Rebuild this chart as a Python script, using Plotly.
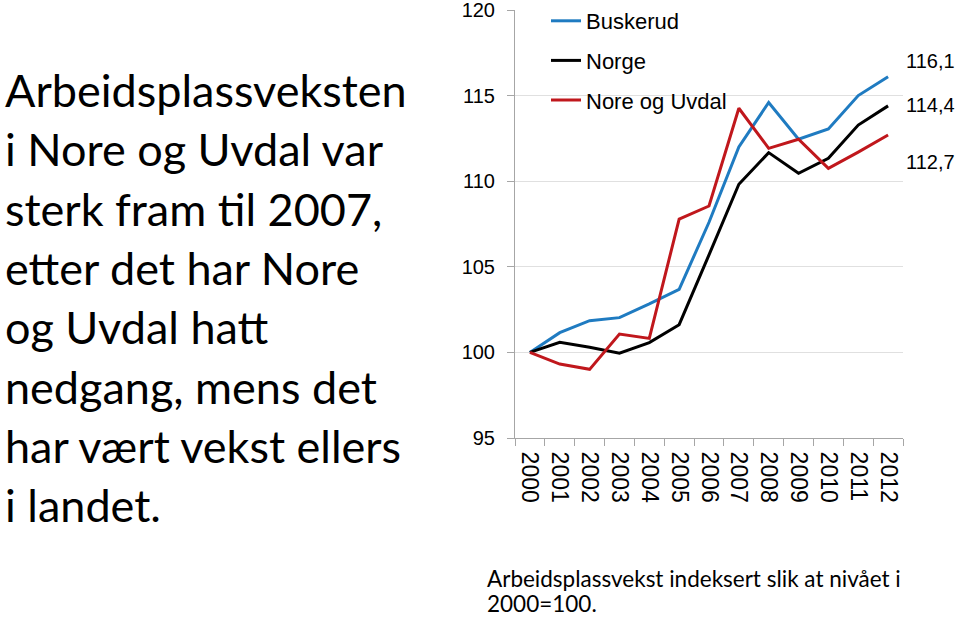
import plotly.graph_objects as go

years = [str(y) for y in range(2000, 2013)]
buskerud = [100, 101.15, 101.85, 102.03, 102.83, 103.68, 107.6, 112.0, 114.6, 112.45, 113.05, 115.0, 116.1]
norge = [100, 100.59, 100.3, 99.95, 100.57, 101.62, 105.7, 109.82, 111.67, 110.46, 111.34, 113.28, 114.4]
nore = [100, 99.32, 99.01, 101.07, 100.82, 107.79, 108.55, 114.26, 111.92, 112.45, 110.75, 111.7, 112.7]
series_names = ["Buskerud", "Norge", "Nore og Uvdal"]
series_colors = ["#1f7bc1", "#000000", "#c0171c"]
end_labels = ["116,1", "114,4", "112,7"]
y_ticks = [95, 100, 105, 110, 115, 120]

left_text = [
    "Arbeidsplassveksten",
    "i Nore og Uvdal var",
    "sterk fram til 2007,",
    "etter det har Nore",
    "og Uvdal hatt",
    "nedgang, mens det",
    "har vært vekst ellers",
    "i landet.",
]
caption = ["Arbeidsplassvekst indeksert slik at nivået i", "2000=100."]

W, H = 960, 617
L, R, T, B = 515, 57, 10, 179
PW, PH = W - L - R, H - T - B


def px(x):
    return (x - L) / PW


def py(y):
    return (H - B - y) / PH


fig = go.Figure()
for i, (name, vals, col) in enumerate(zip(series_names, [buskerud, norge, nore], series_colors)):
    fig.add_trace(go.Scatter(x=years, y=vals, mode="lines", name=name,
                             line=dict(color=col, width=3), legendgroup=name))

annotations = []
shifts = [(16, 16), (16, 1), (16, -27)]
for vals, lab, (xs, ys) in zip([buskerud, norge, nore], end_labels, shifts):
    annotations.append(dict(x=len(years) - 1, y=vals[-1], xref="x", yref="y", text=lab,
                            showarrow=False, xanchor="left", yanchor="middle",
                            xshift=xs, yshift=ys,
                            font=dict(family="Liberation Sans", size=20, color="black")))

line_y0 = 90
pitch = 59.3
for k, t in enumerate(left_text):
    annotations.append(dict(x=px(3), y=py(line_y0 + k * pitch), xref="paper", yref="paper",
                            text=t, showarrow=False, xanchor="left", yanchor="middle",
                            font=dict(family="Lato", size=45, color="black")))

for k, t in enumerate(caption):
    annotations.append(dict(x=px(485), y=py(578 + k * 25), xref="paper", yref="paper",
                            text=t, showarrow=False, xanchor="left", yanchor="middle",
                            font=dict(family="Lato", size=22.5, color="black")))

fig.update_layout(
    width=W, height=H,
    margin=dict(l=L, r=R, t=T, b=B, autoexpand=False),
    paper_bgcolor="white", plot_bgcolor="white",
    showlegend=True,
    legend=dict(x=px(546), y=py(0), xanchor="left", yanchor="top",
                font=dict(family="Liberation Sans", size=22, color="black"),
                tracegroupgap=8, bgcolor="rgba(0,0,0,0)"),
    annotations=annotations,
    xaxis=dict(type="category", range=[-0.5, 12.5], tickangle=90, tickson="boundaries",
               ticks="outside", ticklen=7, tickcolor="#a6a6a6", showline=True,
               linecolor="#a6a6a6", linewidth=1, showgrid=False, automargin=False,
               ticklabelstandoff=8,
               tickfont=dict(family="Liberation Sans", size=23, color="black")),
    yaxis=dict(range=[95, 120], tickvals=y_ticks, ticks="outside", ticklen=7,
               tickcolor="#a6a6a6", showline=True, linecolor="#a6a6a6", linewidth=1,
               gridcolor="#e0e0e0", gridwidth=1, zeroline=False, automargin=False,
               ticklabelstandoff=8, ticklabeloverflow="allow",
               tickfont=dict(family="Liberation Sans", size=20, color="black")),
)

fig.write_html("out.html")
